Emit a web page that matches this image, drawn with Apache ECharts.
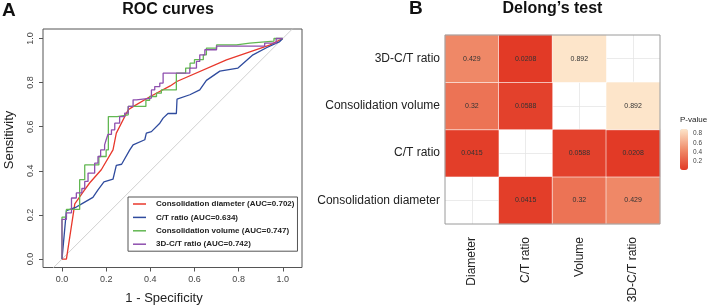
<!DOCTYPE html>
<html>
<head>
<meta charset="utf-8">
<script src="https://cdn.jsdelivr.net/npm/echarts@6/dist/echarts.min.js"></script>
<style>
  html, body { margin: 0; padding: 0; background: #fff; }
  #main { width: 709px; height: 306px; }
</style>
</head>
<body>
<div id="main"></div>
<script>
// ---- Panel A: ROC curves (1 - specificity, sensitivity) ----
var rocNames = [
  'Consolidation diameter (AUC=0.702)',
  'C/T ratio (AUC=0.634)',
  'Consolidation volume (AUC=0.747)',
  '3D-C/T ratio (AUC=0.742)'
];
var rocColors = ['#E8382C', '#2F4B9E', '#62B752', '#8E4FAE'];
var rocTicks = [0, 0.2, 0.4, 0.6, 0.8, 1.0];

var rocDiameter = [[0,0],[0.02,0],[0.058,0.25],[0.10,0.31],[0.125,0.345],[0.178,0.405],[0.231,0.495],
  [0.246,0.571],[0.30,0.677],[0.32,0.69],[0.40,0.737],[0.49,0.785],[0.52,0.805],[0.745,0.903],[0.94,0.97],[1,1]];

var rocCT = [[0,0],[0.02,0.22],[0.065,0.236],[0.095,0.254],[0.14,0.28],[0.163,0.314],[0.19,0.35],[0.231,0.362],
  [0.246,0.425],[0.27,0.43],[0.307,0.495],[0.322,0.518],[0.375,0.541],[0.382,0.571],[0.405,0.578],[0.443,0.616],
  [0.458,0.639],[0.48,0.66],[0.518,0.66],[0.521,0.725],[0.579,0.745],[0.624,0.767],[0.654,0.81],[0.715,0.852],
  [0.797,0.866],[0.865,0.926],[0.926,0.958],[0.986,0.986],[1,1]];

var rocVolume = [[0,0],[0,0.19],[0.02,0.19],[0.02,0.225],[0.08,0.225],[0.08,0.36],[0.103,0.36],[0.103,0.427],
  [0.167,0.427],[0.167,0.465],[0.2,0.465],[0.2,0.495],[0.21,0.495],[0.21,0.646],[0.25,0.646],[0.25,0.654],
  [0.3,0.654],[0.3,0.692],[0.38,0.692],[0.38,0.72],[0.397,0.72],[0.397,0.737],[0.428,0.737],[0.428,0.752],
  [0.45,0.752],[0.45,0.767],[0.518,0.767],[0.518,0.843],[0.56,0.843],[0.56,0.866],[0.58,0.866],[0.58,0.888],
  [0.6,0.888],[0.6,0.904],[0.64,0.904],[0.64,0.926],[0.654,0.926],[0.654,0.956],[0.7,0.956],[0.7,0.971],
  [0.79,0.971],[0.79,0.979],[0.85,0.979],[0.85,0.988],[0.96,0.988],[0.96,1],[1,1]];

var roc3DCT = [[0,0],[0,0.18],[0.02,0.18],[0.02,0.21],[0.043,0.21],[0.043,0.277],[0.065,0.277],[0.065,0.3],
  [0.09,0.3],[0.09,0.32],[0.103,0.32],[0.103,0.352],[0.118,0.352],[0.118,0.39],[0.148,0.39],[0.148,0.435],
  [0.163,0.435],[0.163,0.465],[0.175,0.465],[0.175,0.495],[0.193,0.495],[0.193,0.518],[0.2,0.518],[0.2,0.541],
  [0.208,0.541],[0.208,0.565],[0.224,0.565],[0.224,0.586],[0.239,0.586],[0.239,0.616],[0.261,0.616],[0.261,0.646],
  [0.284,0.646],[0.284,0.662],[0.3,0.662],[0.3,0.692],[0.322,0.692],[0.322,0.722],[0.337,0.722],[0.337,0.73],
  [0.405,0.73],[0.405,0.767],[0.42,0.767],[0.42,0.782],[0.443,0.782],[0.443,0.798],[0.458,0.798],[0.458,0.843],
  [0.579,0.843],[0.579,0.866],[0.609,0.866],[0.609,0.896],[0.624,0.896],[0.624,0.926],[0.647,0.926],[0.647,0.949],
  [0.7,0.949],[0.7,0.965],[0.918,0.965],[0.918,0.979],[0.97,0.979],[0.97,1],[1,1]];

var diagLine = [[-0.2,-0.2],[1.2,1.2]];

// ---- Panel B: Delong's test p-values ----
var colNames = ['Diameter', 'C/T ratio', 'Volume', '3D-C/T ratio'];
var rowNames = ['Consolidation diameter', 'C/T ratio', 'Consolidation volume', '3D-C/T ratio']; // bottom -> top
// pRows[r][c], r follows rowNames, null = diagonal (empty)
var pRows = [
  [null, 0.0415, 0.32, 0.429],
  [0.0415, null, 0.0588, 0.0208],
  [0.32, 0.0588, null, 0.892],
  [0.429, 0.0208, 0.892, null]
];
var pMin = 0.0208, pMax = 0.892;
var pTicks = [0.2, 0.4, 0.6, 0.8];
var gridLineSteps = [0, 8]; // half-cell units for centre grid lines

var FONT = "'Liberation Sans', Arial, Helvetica, sans-serif";

var heatData = [];
for (var r = 0; r < pRows.length; r++) {
  for (var c = 0; c < pRows[r].length; c++) {
    if (pRows[r][c] !== null) heatData.push([c, r, pRows[r][c]]);
  }
}

var rocSets = [rocDiameter, rocCT, rocVolume, roc3DCT];
var series = [{
  type: 'line', xAxisIndex: 0, yAxisIndex: 0, data: diagLine, symbol: 'none', silent: true,
  lineStyle: { color: '#C4C4C4', width: 0.8 }, z: 1
}];
for (var i = 0; i < rocSets.length; i++) {
  series.push({
    name: rocNames[i], type: 'line', xAxisIndex: 0, yAxisIndex: 0, data: rocSets[i],
    symbol: 'none', lineStyle: { color: rocColors[i], width: 1.3 }, itemStyle: { color: rocColors[i] }, z: 3 + i
  });
}
series.push({
  type: 'heatmap', xAxisIndex: 1, yAxisIndex: 1, data: heatData,
  itemStyle: { borderColor: '#ffffff', borderWidth: 0.6 },
  label: {
    show: true, fontFamily: FONT, fontSize: 7, color: '#333',
    formatter: function (p) { return String(p.value[2]); }
  },
  z: 5
});

var chart = echarts.init(document.getElementById('main'));
chart.setOption({
  animation: false,
  textStyle: { fontFamily: FONT },
  grid: [
    { left: 43, top: 29, width: 259, height: 238.5, show: true, borderColor: '#555', borderWidth: 1, backgroundColor: 'transparent' },
    { left: 445, top: 35, width: 215, height: 189 },
    { left: 445, top: 35, width: 215, height: 189 },
    { left: 680, top: 129, width: 8, height: 41 }
  ],
  xAxis: [
    {
      type: 'value', gridIndex: 0, min: -0.086, max: 1.087,
      axisLine: { show: false, onZero: false }, splitLine: { show: false },
      axisTick: { show: true, customValues: rocTicks, length: 4, lineStyle: { color: '#555' } },
      axisLabel: { customValues: rocTicks, fontSize: 9, color: '#444', margin: 8,
        formatter: function (v) { return v.toFixed(1); } }
    },
    {
      type: 'category', gridIndex: 1, data: colNames,
      axisLine: { show: false }, axisTick: { show: false }, splitLine: { show: false },
      axisLabel: { rotate: 90, fontSize: 12, color: '#222', margin: 13 }
    },
    {
      type: 'value', gridIndex: 2, min: gridLineSteps[0], max: gridLineSteps[1], interval: 1,
      axisLine: { show: false }, axisTick: { show: false }, axisLabel: { show: false },
      splitLine: { show: true, lineStyle: { color: ['transparent', '#E6E6E6'], width: 0.8 } }
    },
    { type: 'value', gridIndex: 3, show: false }
  ],
  yAxis: [
    {
      type: 'value', gridIndex: 0, min: -0.038, max: 1.043,
      axisLine: { show: false, onZero: false }, splitLine: { show: false },
      axisTick: { show: true, customValues: rocTicks, length: 4, lineStyle: { color: '#555' } },
      axisLabel: { customValues: rocTicks, rotate: 90, fontSize: 9, color: '#444', margin: 8,
        formatter: function (v) { return v.toFixed(1); } }
    },
    {
      type: 'category', gridIndex: 1, data: rowNames,
      axisLine: { show: false }, axisTick: { show: false }, splitLine: { show: false },
      axisLabel: { fontSize: 12, color: '#222', margin: 5 }
    },
    {
      type: 'value', gridIndex: 2, min: gridLineSteps[0], max: gridLineSteps[1], interval: 1,
      axisLine: { show: false }, axisTick: { show: false }, axisLabel: { show: false },
      splitLine: { show: true, lineStyle: { color: ['transparent', '#E6E6E6'], width: 0.8 } }
    },
    {
      type: 'value', gridIndex: 3, min: pMin, max: pMax, position: 'right',
      axisLine: { show: false, onZero: false }, splitLine: { show: false },
      axisTick: { show: true, inside: true, customValues: pTicks, length: 2, lineStyle: { color: '#fff' } },
      axisLabel: { customValues: pTicks, fontSize: 6.5, color: '#444', margin: 5,
        formatter: function (v) { return v.toFixed(1); } }
    }
  ],
  visualMap: {
    type: 'continuous', min: pMin, max: pMax, seriesIndex: 5,
    left: 680, top: 129, padding: 0, itemWidth: 8, itemHeight: 41,
    calculable: false, text: null, orient: 'vertical',
    inRange: { color: ['#E23A26', '#F08D6B', '#FDE5CA'] }
  },
  legend: {
    data: rocNames, orient: 'vertical', left: 128, top: 197,
    icon: 'rect', padding: [3, 3, 3, 5], itemWidth: 13, itemHeight: 1.5, itemGap: 5.4,
    borderColor: '#555', borderWidth: 1, borderRadius: 0,
    textStyle: { fontSize: 8, lineHeight: 8, fontWeight: 'bold', color: '#222', fontFamily: FONT, padding: [0, 0, 0, 5] }
  },
  graphic: [
    { type: 'text', x: 2, y: 11, style: { text: 'A', font: 'bold 19px ' + FONT, fill: '#111', textVerticalAlign: 'middle' } },
    { type: 'text', x: 168, y: 10, style: { text: 'ROC curves', font: 'bold 16px ' + FONT, fill: '#111', textAlign: 'center', textVerticalAlign: 'middle' } },
    { type: 'text', x: 164, y: 298, style: { text: '1 - Specificity', font: '13px ' + FONT, fill: '#222', textAlign: 'center', textVerticalAlign: 'middle' } },
    { type: 'text', x: 9, y: 140, rotation: Math.PI / 2, style: { text: 'Sensitivity', font: '13px ' + FONT, fill: '#222', textAlign: 'center', textVerticalAlign: 'middle' } },
    { type: 'text', x: 409, y: 9, style: { text: 'B', font: 'bold 19px ' + FONT, fill: '#111', textVerticalAlign: 'middle' } },
    { type: 'text', x: 552.5, y: 9, style: { text: 'Delong\u2019s test', font: 'bold 16px ' + FONT, fill: '#111', textAlign: 'center', textVerticalAlign: 'middle' } },
    { type: 'text', x: 680, y: 120, style: { text: 'P-value', font: '8px ' + FONT, fill: '#222', textVerticalAlign: 'middle' } },
    { type: 'rect', shape: { x: 445, y: 35, width: 215, height: 189 }, style: { fill: 'none', stroke: '#9A9A9A', lineWidth: 1 }, z: 100 }
  ],
  series: series
});
</script>
</body>
</html>
